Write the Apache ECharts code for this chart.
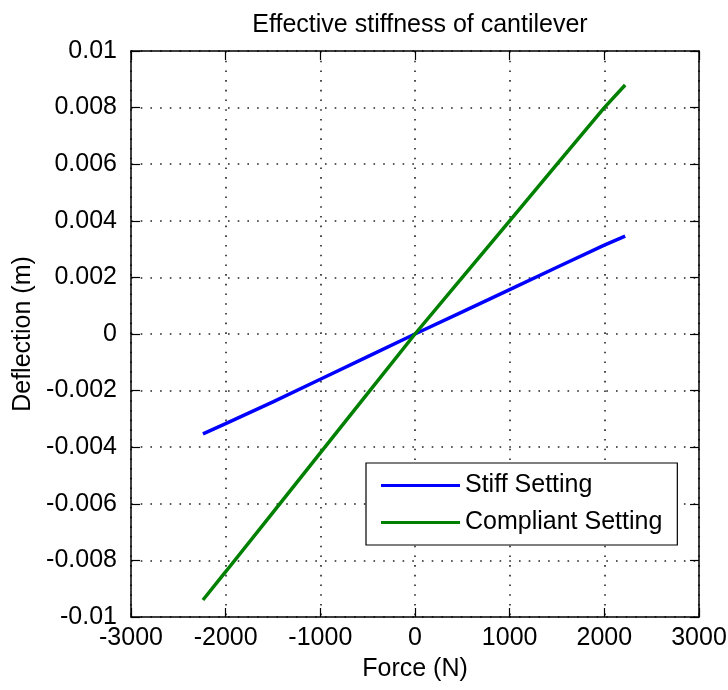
<!DOCTYPE html>
<html>
<head>
<meta charset="utf-8">
<script src="https://cdn.jsdelivr.net/npm/echarts@6/dist/echarts.min.js"></script>
<style>
html, body { margin: 0; padding: 0; background: #fff; }
#chart { width: 728px; height: 690px; }
</style>
</head>
<body>
<div id="chart"></div>
<script>
// force values (N)
const force = [-2240, -2000, -1500, -1000, -500, 0, 500, 1000, 1500, 2000, 2220]
// deflection (m)
const stiffDefl = [-0.00353, -0.00317, -0.0024, -0.0016, -0.0008, 0, 0.00078, 0.00157, 0.00236, 0.00314, 0.00346]
const compliantDefl = [-0.0094, -0.0084, -0.0063, -0.0042, -0.0021, 0, 0.002, 0.004, 0.006, 0.008, 0.0088]
const seriesNames = ['Stiff Setting', 'Compliant Setting']

const font = 'Liberation Sans, Arial, Helvetica, sans-serif'
const fs = 25
const pairs = (ys) => force.map((x, i) => [x, ys[i]])

const gridDots = { show: true, lineStyle: { color: '#222', type: [1.6, 8.1], width: 1.6 } }
const boxLine = { show: true, onZero: false, lineStyle: { color: '#000', width: 1.5 } }
const inTick = { show: true, inside: true, length: 9, lineStyle: { color: '#000', width: 1.2 } }

const options = {
  animation: false,
  backgroundColor: '#fff',
  title: {
    text: 'Effective stiffness of cantilever',
    left: 415,
    textAlign: 'center',
    top: 8,
    textStyle: { fontFamily: font, fontSize: fs, fontWeight: 'normal', color: '#000' },
  },
  grid: { left: 131, right: 29, top: 51, bottom: 73, outerBoundsMode: 'none', containLabel: false },
  legend: {
    data: seriesNames,
    orient: 'vertical',
    left: 366,
    top: 463,
    backgroundColor: '#fff',
    borderColor: '#000',
    borderWidth: 1.2,
    borderRadius: 0,
    padding: [10, 15, 10, 15],
    itemWidth: 79,
    itemHeight: 3,
    itemGap: 12,
    icon: 'rect',
    textStyle: { fontFamily: font, fontSize: fs, color: '#000' },
  },
  xAxis: [
    {
      type: 'value',
      min: -3000,
      max: 3000,
      interval: 1000,
      name: 'Force (N)',
      nameLocation: 'middle',
      nameGap: 40,
      nameTextStyle: { fontFamily: font, fontSize: fs, color: '#000' },
      axisLine: boxLine,
      axisTick: inTick,
      axisLabel: { fontFamily: font, fontSize: fs, color: '#000', margin: 9, formatter: (v) => String(v) },
      splitLine: gridDots,
    },
    {
      type: 'value',
      position: 'top',
      min: -3000,
      max: 3000,
      interval: 1000,
      axisLine: boxLine,
      axisTick: inTick,
      axisLabel: { show: false },
      splitLine: { show: false },
    },
  ],
  yAxis: [
    {
      type: 'value',
      min: -0.01,
      max: 0.01,
      interval: 0.002,
      name: 'Deflection (m)',
      nameLocation: 'middle',
      nameGap: 93,
      nameTextStyle: { fontFamily: font, fontSize: fs, color: '#000' },
      axisLine: boxLine,
      axisTick: inTick,
      axisLabel: {
        fontFamily: font,
        fontSize: fs,
        color: '#000',
        margin: 14,
        formatter: (v) => String(+v.toFixed(3)),
      },
      splitLine: gridDots,
    },
    {
      type: 'value',
      position: 'right',
      min: -0.01,
      max: 0.01,
      interval: 0.002,
      axisLine: boxLine,
      axisTick: inTick,
      axisLabel: { show: false },
      splitLine: { show: false },
    },
  ],
  series: [
    {
      name: seriesNames[0],
      type: 'line',
      data: pairs(stiffDefl),
      showSymbol: false,
      itemStyle: { color: '#0000ff' },
      lineStyle: { color: '#0000ff', width: 3.5 },
    },
    {
      name: seriesNames[1],
      type: 'line',
      data: pairs(compliantDefl),
      showSymbol: false,
      itemStyle: { color: '#008000' },
      lineStyle: { color: '#008000', width: 3.5 },
    },
  ],
}

const chart = echarts.init(document.getElementById('chart'))
chart.setOption(options)
window.addEventListener('resize', function () {
  chart && chart.resize()
})
</script>
</body>
</html>
